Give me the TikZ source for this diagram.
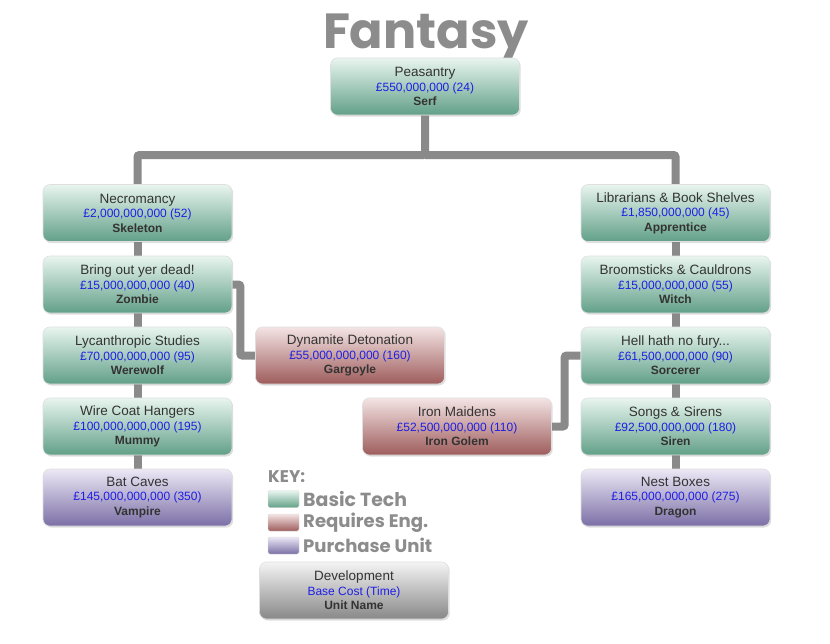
\documentclass[tikz,border=0pt]{standalone}
\usepackage{fontspec}
\setmainfont{Liberation Sans}
\newfontfamily\handfont{Poppins}
\usetikzlibrary{shadows,backgrounds}
\definecolor{conn}{HTML}{8A8A8A}
\definecolor{txt}{HTML}{333333}
\definecolor{cost}{HTML}{1E1EE6}
\definecolor{hand}{HTML}{8C8C8C}
\definecolor{gTop}{HTML}{E8F5EF}\definecolor{gMid}{HTML}{A0D2BE}\definecolor{gBot}{HTML}{62A088}
\definecolor{rTop}{HTML}{F4E4E4}\definecolor{rMid}{HTML}{D4A6A6}\definecolor{rBot}{HTML}{9E5C5C}
\definecolor{pTop}{HTML}{ECE8F5}\definecolor{pMid}{HTML}{B8AFD6}\definecolor{pBot}{HTML}{7B6FA6}
\definecolor{kTop}{HTML}{F4F4F4}\definecolor{kMid}{HTML}{CCCCCC}\definecolor{kBot}{HTML}{888888}
\newcommand{\techtext}[3]{{\fontsize{13.5}{14.5}\selectfont\color{txt}#1}\\{\fontsize{12}{14.5}\selectfont\color{cost}#2}\\{\fontsize{12}{14.5}\selectfont\bfseries\color{txt}#3}}
\tikzset{
  boxbase/.style={rounded corners=7pt, minimum width=189pt, minimum height=57pt,
    align=center, inner sep=0pt, draw=white!75!gray, line width=0.6pt,
    font=\fontsize{12}{14.5}\selectfont,
    drop shadow={opacity=0.25, shadow xshift=1.2pt, shadow yshift=-1.5pt}},
  greenbox/.style={boxbase, top color=gTop, middle color=gMid, bottom color=gBot},
  redbox/.style={boxbase, top color=rTop, middle color=rMid, bottom color=rBot},
  purplebox/.style={boxbase, top color=pTop, middle color=pMid, bottom color=pBot},
  graybox/.style={boxbase, top color=kTop, middle color=kMid, bottom color=kBot},
  swatch/.style={rounded corners=2pt, minimum width=31pt, minimum height=17pt, inner sep=0pt, draw=white!70!gray, line width=0.4pt},
  link/.style={draw=conn, line width=8pt, rounded corners=2pt},
  keytext/.style={anchor=west, inner sep=0pt, text=hand, font=\handfont\bfseries}
}
\begin{document}
\begin{tikzpicture}[x=1pt,y=-1pt]
\useasboundingbox (0,0) rectangle (830,643);
\node[anchor=base, inner sep=0pt, text=hand, font=\handfont\bfseries] (title) at (426,48) {\resizebox{206pt}{!}{Fantasy}};

\node[greenbox] (peas) at (425,86.5) {\techtext{Peasantry}{£550,000,000 (24)}{Serf}};

\node[greenbox] (necro) at (137.5,213) {\techtext{Necromancy}{£2,000,000,000 (52)}{Skeleton}};
\node[greenbox] (zombie) at (137.5,284.5) {\techtext{Bring out yer dead!}{£15,000,000,000 (40)}{Zombie}};
\node[greenbox] (were) at (137.5,355.5) {\techtext{Lycanthropic Studies}{£70,000,000,000 (95)}{Werewolf}};
\node[greenbox] (mummy) at (137.5,426.5) {\techtext{Wire Coat Hangers}{£100,000,000,000 (195)}{Mummy}};
\node[purplebox] (vamp) at (137.5,497.5) {\techtext{Bat Caves}{£145,000,000,000 (350)}{Vampire}};

\node[greenbox] (libr) at (675.5,213) {\techtext{Librarians \& Book Shelves}{£1,850,000,000 (45)}{Apprentice}};
\node[greenbox] (witch) at (675.5,284.5) {\techtext{Broomsticks \& Cauldrons}{£15,000,000,000 (55)}{Witch}};
\node[greenbox] (sorc) at (675.5,355.5) {\techtext{Hell hath no fury...}{£61,500,000,000 (90)}{Sorcerer}};
\node[greenbox] (siren) at (675.5,426.5) {\techtext{Songs \& Sirens}{£92,500,000,000 (180)}{Siren}};
\node[purplebox] (dragon) at (675.5,497.5) {\techtext{Nest Boxes}{£165,000,000,000 (275)}{Dragon}};

\node[redbox] (dyn) at (350,355.5) {\techtext{Dynamite Detonation}{£55,000,000,000 (160)}{Gargoyle}};
\node[redbox] (iron) at (457,426.5) {\techtext{Iron Maidens}{£52,500,000,000 (110)}{Iron Golem}};

\node[keytext] (key) at (268,477) {\resizebox{37pt}{!}{KEY:}};
\node[swatch, top color=gTop, middle color=gMid, bottom color=gBot] (sw1) at (283.5,499) {};
\node[swatch, top color=rTop, middle color=rMid, bottom color=rBot] (sw2) at (283.5,522.5) {};
\node[swatch, top color=pTop, middle color=pMid, bottom color=pBot] (sw3) at (283.5,545.5) {};
\node[keytext] (k1) at (303,499) {\resizebox{104pt}{!}{Basic Tech}};
\node[keytext] (k2) at (303,522.5) {\resizebox{125pt}{!}{Requires Eng.}};
\node[keytext] (k3) at (303,545.5) {\resizebox{129pt}{!}{Purchase Unit}};

\node[graybox] (legend) at (354,590.5) {\techtext{Development}{Base Cost (Time)}{Unit Name}};

\begin{scope}[on background layer]
\fill[white] (0,0) rectangle (830,643);
\draw[link] (peas.south) -- (peas.south |- 0,155) -| (necro.north);
\draw[link] (peas.south |- 0,155) -| (libr.north);
\draw[link] (necro) -- (zombie) -- (were) -- (mummy) -- (vamp);
\draw[link] (libr) -- (witch) -- (sorc) -- (siren) -- (dragon);
\draw[link] (zombie.east) -- ++(8,0) |- (dyn.west);
\draw[link] (sorc.west) -- ++(-16,0) |- (iron.east);
\end{scope}
\end{tikzpicture}
\end{document}
